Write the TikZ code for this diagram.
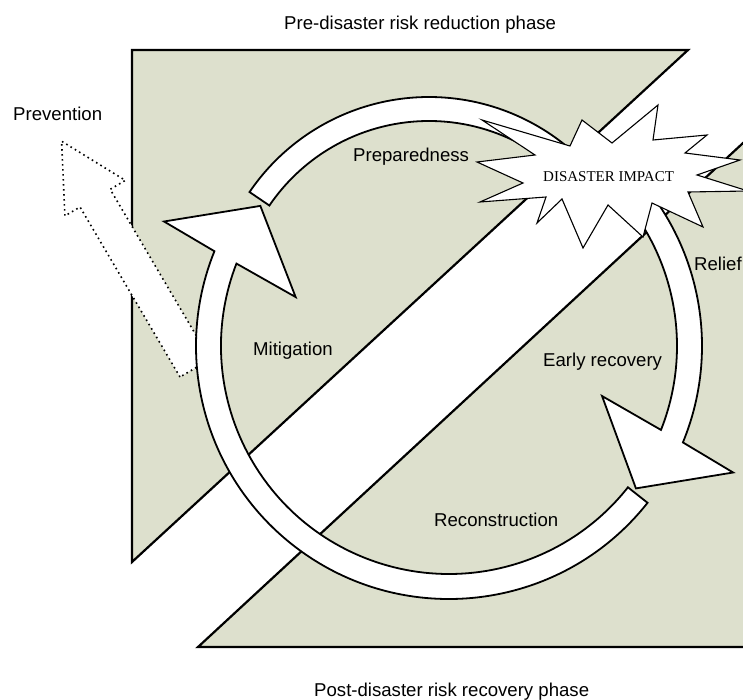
\documentclass[tikz,border=0pt]{standalone}
\usepackage{fontspec}
\setmainfont{Liberation Sans}
\newfontfamily\starfont{Liberation Serif}
\definecolor{phase}{RGB}{221,224,205}
\begin{document}
\begin{tikzpicture}[x=1pt,y=1pt,
  phasebox/.style={fill=phase, draw=black, line width=2.2pt, line join=miter},
  ringarrow/.style={fill=white, draw=black, line width=1.8pt, line join=miter},
  prevarrow/.style={fill=white, draw=black, line width=1.6pt, dash pattern=on 1.6pt off 3.4pt},
  burst/.style={fill=white, draw=black, line width=1.1pt},
  lbl/.style={anchor=base west, inner sep=0pt, font=\fontsize{18.6}{22}\selectfont}]
\useasboundingbox (0,0) rectangle (743,-700);
\clip (0,0) rectangle (743,-700);
% phase areas
\path[phasebox] (132,-50) -- (688,-50) -- (132,-562) -- cycle;
\path[phasebox] (198,-647) -- (760,-127.3) -- (760,-647) -- cycle;
% prevention arrow
\path[prevarrow] (180,-377) -- (80,-207) -- (64.9,-215.9) -- (61.6,-141.2) -- (125.3,-180.4) -- (110.2,-189.3) -- (210.2,-359.3) -- cycle;
% cycle arrows
\begin{scope}[shift={(449,-346)}]
\path[ringarrow] (-38.3:253) arc[start angle=-38.3, end angle=-202.0, radius=253]
  -- (-203.6:311) -- (-216.6:235) -- (-197.7:161) -- (-201.2:228)
  arc[start angle=-201.2, end angle=-38.3, radius=228] -- cycle;
\path[ringarrow] (48:253) arc[start angle=48, end angle=-22.4, radius=253]
  -- (-24:311) -- (-37.3:235) -- (-18.1:161) -- (-21.6:228)
  arc[start angle=-21.6, end angle=48, radius=228] -- cycle;
\end{scope}
\begin{scope}[shift={(429,-314)}]
\path[ringarrow] (145.8:217) arc[start angle=145.8, end angle=40, radius=217]
  -- (40:193) arc[start angle=40, end angle=145.8, radius=193] -- cycle;
\end{scope}
% disaster burst
\path[burst] (482,-120) -- (570,-146) -- (582,-120) -- (612,-143) -- (658,-105) -- (653,-140)
  -- (707,-135) -- (685,-153) -- (740,-160) -- (697,-175) -- (748,-191) -- (688,-192)
  -- (703,-227) -- (652,-203) -- (643,-237) -- (608,-205) -- (583,-248) -- (562,-199)
  -- (537,-223) -- (546,-197) -- (480,-202) -- (523,-183) -- (477,-162) -- (535,-155) -- cycle;
% labels
\node[lbl] (pre) at (284,-30) {Pre-disaster risk reduction phase};
\node[lbl] (post) at (314,-696) {Post-disaster risk recovery phase};
\node[lbl] (prev) at (13,-121) {Prevention};
\node[lbl] (prep) at (353,-162) {Preparedness};
\node[lbl] (miti) at (253,-355) {Mitigation};
\node[lbl] (early) at (543,-366) {Early recovery};
\node[lbl] (recon) at (434,-526) {Reconstruction};
\node[lbl] (relief) at (694,-270) {Relief};
\node[anchor=base west, inner sep=0pt, font=\starfont\fontsize{15}{18}\selectfont] (impact) at (543,-182) {DISASTER IMPACT};
\end{tikzpicture}
\end{document}
